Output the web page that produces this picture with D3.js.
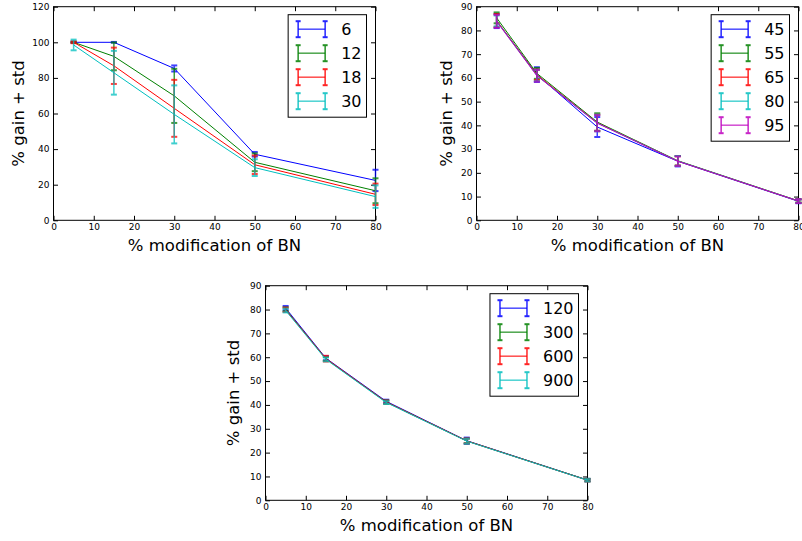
<!DOCTYPE html>
<html>
<head>
<meta charset="utf-8">
<script src="https://cdn.jsdelivr.net/npm/d3@7"></script>
<style>
  body { margin: 0; background: #fff; }
  svg { display: block; font-family: "DejaVu Sans", sans-serif; }
</style>
</head>
<body>
<div id="chart"></div>
<script>
// shared x positions (% modification of BN)
const xValues = [5, 15, 30, 50, 80];
const xTicks = [0, 10, 20, 30, 40, 50, 60, 70, 80];

// panel 1
const labels1 = ['6', '12', '18', '30'];
const means1 = [
    [100, 100, 85.3, 37.1, 22.4],
    [100, 92.1, 69.9, 32.6, 16.6],
    [100, 86.8, 62.9, 31.2, 14.6],
    [98.5, 82.9, 59.5, 29.6, 13.3]
];
const stds1 = [
    [0.3, 0.2, 1.7, 1.3, 6.0],
    [0.3, 7.8, 15.2, 5.0, 7.0],
    [0.5, 10.2, 16.0, 5.2, 6.0],
    [3.0, 12.3, 16.3, 4.7, 6.3]
];
const yTicks1 = [0, 20, 40, 60, 80, 100, 120];

// panel 2
const labels2 = ['45', '55', '65', '80', '95'];
const means2 = [
    [84.0, 61.4, 39.3, 24.9, 8.0],
    [85.3, 61.9, 41.4, 25.1, 8.2],
    [84.2, 61.3, 41.1, 25.0, 8.1],
    [84.0, 61.0, 41.0, 25.0, 8.1],
    [83.8, 60.9, 40.9, 24.9, 8.1]
];
const stds2 = [
    [3.0, 3.1, 4.2, 2.2, 0.8],
    [2.3, 2.3, 3.7, 2.0, 0.7],
    [2.7, 2.2, 3.4, 2.0, 0.7],
    [2.3, 2.4, 3.5, 2.1, 0.7],
    [2.7, 2.5, 3.4, 2.0, 0.8]
];
const yTicks2 = [0, 10, 20, 30, 40, 50, 60, 70, 80, 90];

// panel 3
const labels3 = ['120', '300', '600', '900'];
const means3 = [
    [80.6, 59.6, 41.5, 25.0, 8.5],
    [80.1, 59.3, 41.2, 24.9, 8.5],
    [79.9, 59.4, 41.2, 24.9, 8.4],
    [79.6, 59.1, 41.0, 24.8, 8.4]
];
const stds3 = [
    [0.9, 0.9, 0.7, 1.3, 0.5],
    [0.8, 0.8, 0.7, 1.0, 0.5],
    [0.9, 1.2, 0.6, 1.0, 0.5],
    [0.8, 0.8, 0.6, 1.0, 0.5]
];
const yTicks3 = yTicks2;

const colors = ['#0000ff', '#008000', '#ff0000', '#00bfbf', '#bf00bf'];

const svg = d3.select('#chart')
    .append('svg')
        .attr('width', 802)
        .attr('height', 541);

svg.append('rect').attr('width', 802).attr('height', 541).attr('fill', '#fff');

drawPanel({left: 53.5, top: 6.7, width: 322, height: 213.6, yMax: 120, yTicks: yTicks1,
           labels: labels1, means: means1, stds: stds1, yLabelOff: 29.5});
drawPanel({left: 476.5, top: 6.7, width: 322, height: 213.6, yMax: 90, yTicks: yTicks2,
           labels: labels2, means: means2, stds: stds2, yLabelOff: 25});
drawPanel({left: 265.5, top: 285.7, width: 322, height: 214.6, yMax: 90, yTicks: yTicks3,
           labels: labels3, means: means3, stds: stds3, yLabelOff: 27});

function drawPanel(p) {
    const g = svg.append('g').attr('transform', `translate(${p.left},${p.top})`);

    const x = d3.scaleLinear().domain([0, 80]).range([0, p.width]);
    const y = d3.scaleLinear().domain([0, p.yMax]).range([p.height, 0]);

    // ticks pointing inward on all four sides
    const tk = 4.5;
    g.append('g')
        .attr('transform', `translate(0,${p.height})`)
        .call(d3.axisBottom(x).tickValues(xTicks).tickSize(-tk).tickPadding(3).tickSizeOuter(0));
    g.append('g')
        .call(d3.axisTop(x).tickValues(xTicks).tickSize(-tk).tickFormat('').tickSizeOuter(0));
    g.append('g')
        .call(d3.axisLeft(y).tickValues(p.yTicks).tickSize(-tk).tickPadding(4).tickSizeOuter(0));
    g.append('g')
        .attr('transform', `translate(${p.width},0)`)
        .call(d3.axisRight(y).tickValues(p.yTicks).tickSize(-tk).tickFormat('').tickSizeOuter(0));

    g.selectAll('.domain').remove();
    g.selectAll('.tick line').attr('stroke', '#000').attr('stroke-width', 1);
    g.selectAll('.tick text').attr('font-size', 9).attr('fill', '#000')
        .attr('font-family', '"DejaVu Sans", sans-serif');

    g.append('rect')
        .attr('width', p.width)
        .attr('height', p.height)
        .attr('fill', 'none')
        .attr('stroke', '#000')
        .attr('stroke-width', 1);

    // series lines + error bars
    const line = d3.line().x(d => x(d.x)).y(d => y(d.m));

    p.means.forEach((series, i) => {
        const pts = series.map((m, j) => ({x: xValues[j], m: m, s: p.stds[i][j]}));
        const col = colors[i];

        g.append('path')
            .datum(pts)
            .attr('d', line)
            .attr('fill', 'none')
            .attr('stroke', col)
            .attr('stroke-width', 1);

        const eb = g.append('g').attr('opacity', 0.75);
        eb.selectAll('line.bar')
            .data(pts)
            .join('line')
                .attr('class', 'bar')
                .attr('x1', d => x(d.x)).attr('x2', d => x(d.x))
                .attr('y1', d => y(d.m - d.s)).attr('y2', d => y(d.m + d.s))
                .attr('stroke', col)
                .attr('stroke-width', 1.5);
        [-1, 1].forEach(sign => {
            eb.selectAll('line.cap' + (sign > 0 ? 'a' : 'b'))
                .data(pts)
                .join('line')
                    .attr('class', 'cap' + (sign > 0 ? 'a' : 'b'))
                    .attr('x1', d => x(d.x) - 3).attr('x2', d => x(d.x) + 3)
                    .attr('y1', d => y(d.m + sign * d.s)).attr('y2', d => y(d.m + sign * d.s))
                    .attr('stroke', col)
                    .attr('stroke-width', 2);
        });
    });

    // axis labels
    g.append('text')
        .attr('x', p.width / 2)
        .attr('y', p.height + 30.3)
        .attr('text-anchor', 'middle')
        .attr('font-size', 16.5)
        .text('% modification of BN');

    g.append('text')
        .attr('transform', `translate(${-p.yLabelOff},${p.height / 2}) rotate(-90)`)
        .attr('text-anchor', 'middle')
        .attr('font-size', 16.5)
        .text('% gain + std');

    // legend
    const n = p.labels.length;
    const textW = d3.max(p.labels, l => l.length) * 16 * 0.636;
    const boxW = 10 + 27 + 16 + textW + 5;
    const boxH = 30.5 + 24 * (n - 1);
    const lg = g.append('g')
        .attr('transform', `translate(${p.width - 9 - boxW},${8})`);

    lg.append('rect')
        .attr('width', boxW)
        .attr('height', boxH)
        .attr('fill', '#fff')
        .attr('stroke', '#000')
        .attr('stroke-width', 1);

    const items = lg.selectAll('.item')
        .data(p.labels)
        .join('g')
            .attr('class', 'item')
            .attr('transform', (d, i) => `translate(10,${14.5 + i * 24})`);

    items.append('line')
        .attr('x1', 0).attr('x2', 27).attr('y1', 0).attr('y2', 0)
        .attr('stroke', (d, i) => colors[i])
        .attr('stroke-width', 1.5)
        .attr('opacity', 0.7);

    [0, 27].forEach(hx => {
        const h = items.append('g').attr('opacity', 0.85);
        h.append('line')
            .attr('x1', hx).attr('x2', hx).attr('y1', -8).attr('y2', 8)
            .attr('stroke', (d, i) => colors[i])
            .attr('stroke-width', 1.5);
        [-8, 8].forEach(cy => {
            h.append('line')
                .attr('x1', hx - 2.5).attr('x2', hx + 2.5).attr('y1', cy).attr('y2', cy)
                .attr('stroke', (d, i) => colors[i])
                .attr('stroke-width', 2);
        });
    });

    items.append('text')
        .attr('x', 43)
        .attr('y', 6)
        .attr('font-size', 16)
        .text(d => d);
}
</script>
</body>
</html>
